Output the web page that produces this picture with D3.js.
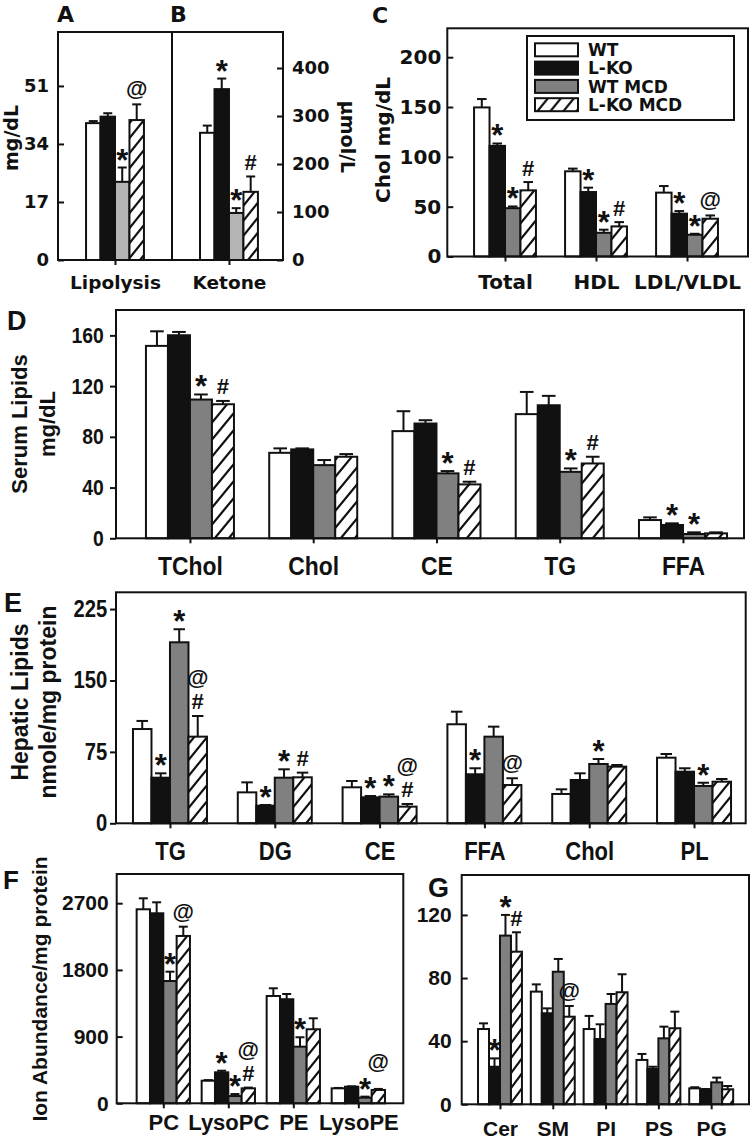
<!DOCTYPE html>
<html><head><meta charset="utf-8">
<script src="https://cdn.jsdelivr.net/npm/d3@7"></script>
<style>body{margin:0;background:#fff}svg{display:block}</style>
</head><body><svg id="c" width="750" height="1145"></svg>
<script>
// ---------- DATA ----------
const series = ["WT", "L-KO", "WT MCD", "L-KO MCD"];

// Panel A/B (A: mg/dL left axis, B: µmol/L right axis)
const abCategories = ["Lipolysis", "Ketone"];
const abValues = [[40.1, 42.0, 22.9, 41.0], [265, 356, 98, 142]];
const abErrors = [[0.6, 1.0, 4.2, 4.6], [15, 22, 10, 32]];
const aTicks = [0, 17, 34, 51];
const bTicks = [0, 100, 200, 300, 400];
// [group, series, symbol, stack level]
const abMarks = [[0, 2, "*", 0], [0, 3, "@", 0], [1, 1, "*", 0], [1, 2, "*", 0], [1, 3, "#", 0]];

// Panel C
const cCategories = ["Total", "HDL", "LDL/VLDL"];
const cValues = [[149.6, 111, 48.5, 66.4], [85.5, 64.7, 23.8, 30.2], [64.1, 43, 21.8, 37.9]];
const cErrors = [[8.4, 2.4, 1.7, 8.3], [2.7, 4.4, 3.1, 4.3], [6.6, 2.6, 1.0, 3.3]];
const cTicks = [0, 50, 100, 150, 200];
const cMarks = [[0, 1, "*", 0], [0, 2, "*", 0], [0, 3, "#", 0], [1, 1, "*", 0], [1, 2, "*", 0], [1, 3, "#", 0], [2, 1, "*", 0], [2, 2, "*", 0], [2, 3, "@", 0]];

// Panel D
const dCategories = ["TChol", "Chol", "CE", "TG", "FFA"];
const dValues = [[151.7, 160.1, 109.4, 105.7], [67.4, 70.1, 57.7, 64.3], [84.5, 90.5, 51.2, 42.5], [97.9, 104.9, 52.4, 59.0], [14.4, 10.5, 3.4, 3.9]];
const dErrors = [[11.5, 2.6, 4.0, 2.6], [3.5, 0.8, 4.0, 2.1], [15.7, 2.6, 1.8, 2.1], [17.5, 7.4, 2.7, 5.3], [2.1, 1.3, 1.3, 0.8]];
const dTicks = [0, 40, 80, 120, 160];
const dMarks = [[0, 2, "*", 0], [0, 3, "#", 0], [2, 2, "*", 0], [2, 3, "#", 0], [3, 2, "*", 0], [3, 3, "#", 0], [4, 1, "*", 0], [4, 2, "*", 0]];

// Panel E
const eCategories = ["TG", "DG", "CE", "FFA", "Chol", "PL"];
const eValues = [[99, 47.9, 190.1, 91], [32.5, 18.5, 47.9, 48.3], [37.8, 27.3, 28.0, 17.5], [104, 51.5, 91, 40.2], [30.8, 45.5, 62.3, 59.5], [68.9, 54.2, 39.2, 43.7]];
const eErrors = [[8.5, 4.6, 13.7, 21.7], [10.5, 0.7, 8.8, 4.9], [6.6, 1.4, 2.4, 2.8], [13.2, 6.3, 10.5, 7.1], [4.9, 7.0, 5.2, 1.7], [3.9, 3.6, 3.4, 2.8]];
const eTicks = [0, 75, 150, 225];
const eMarks = [[0, 1, "*", 0], [0, 2, "*", 0], [0, 3, "#", 0], [0, 3, "@", 1], [1, 1, "*", 0], [1, 2, "*", 0], [1, 3, "#", 0], [2, 1, "*", 0], [2, 2, "*", 0], [2, 3, "#", 0], [2, 3, "@", 1], [3, 1, "*", 0], [3, 3, "@", 0], [4, 2, "*", 0], [5, 2, "*", 0]];

// Panel F
const fCategories = ["PC", "LysoPC", "PE", "LysoPE"];
const fValues = [[2618, 2564, 1650, 2258], [305, 418, 98, 202], [1448, 1404, 764, 999], [202, 224, 76, 180]];
const fErrors = [[148, 148, 126, 125], [8, 22, 27, 10], [104, 71, 127, 148], [5, 5, 14, 14]];
const fTicks = [0, 900, 1800, 2700];
const fMarks = [[0, 2, "*", 0], [0, 3, "@", 0], [1, 1, "*", 0], [1, 2, "*", 0], [1, 3, "#", 0], [1, 3, "@", 1], [2, 2, "*", 0], [3, 2, "*", 0], [3, 3, "@", 0.5]];

// Panel G
const gCategories = ["Cer", "SM", "PI", "PS", "PG"];
const gValues = [[47.7, 23.8, 106.9, 96.7], [71.4, 57.7, 84.0, 55.5], [47.7, 41.4, 63.6, 71.0], [28.1, 22.4, 41.8, 48.2], [10.1, 9.1, 13.9, 9.5]];
const gErrors = [[3.6, 5.3, 13.1, 12.3], [4.6, 3.1, 8.1, 6.8], [8.3, 9.3, 6.3, 11.4], [3.8, 1.4, 7.4, 10.5], [0.7, 0.6, 3.0, 2.1]];
const gTicks = [0, 40, 80, 120];
const gMarks = [[0, 1, "*", 0], [0, 2, "*", 0], [0, 3, "#", 0], [1, 3, "@", 0]];

// ---------- DRAWING ----------
const ARIAL = "'Liberation Sans', Arial, Helvetica, sans-serif";
const DEJAVU = "'DejaVu Sans', Verdana, sans-serif";
const INK = "#111";
const svg = d3.select("#c");
const defs = svg.append("defs");

function hatch(id, w, h) {
  const p = defs.append("pattern").attr("id", id).attr("patternUnits", "userSpaceOnUse")
    .attr("width", w).attr("height", h);
  p.append("rect").attr("width", w).attr("height", h).attr("fill", "#fff");
  p.append("path")
    .attr("d", `M${-0.5 * w},${0.5 * h}L${0.5 * w},${-0.5 * h}M${-0.1 * w},${1.1 * h}L${1.1 * w},${-0.1 * h}M${0.5 * w},${1.5 * h}L${1.5 * w},${0.5 * h}`)
    .attr("stroke", INK).attr("stroke-width", 2.2).attr("fill", "none");
}

function label(x, y, s, o = {}) {
  let tr = `translate(${x},${y})`;
  if (o.rot) tr += ` rotate(${o.rot})`;
  if (o.sx) tr += ` scale(${o.sx},1)`;
  const t = svg.append("text").attr("transform", tr)
    .attr("font-family", o.ff || ARIAL).attr("font-weight", "bold")
    .attr("font-size", o.fs || 20).attr("text-anchor", o.anchor || "middle")
    .attr("fill", INK).text(s);
  if (o.dy) t.attr("dy", o.dy);
  return t;
}

function styleAxis(sel, o) {
  sel.select(".domain").remove();
  sel.attr("font-family", o.ff).attr("font-size", o.fs);
  sel.selectAll(".tick line").attr("stroke", INK).attr("stroke-width", 2);
  sel.selectAll(".tick text").attr("font-family", o.ff).attr("font-weight", "bold")
    .attr("font-size", o.fs).attr("fill", INK);
  if (o.sx) sel.selectAll(".tick text").attr("transform", `scale(${o.sx},1)`);
}

const markSize = { "*": 31, "#": 22, "@": 22 };
const markShift = { "*": 17, "#": 7.5, "@": 6 };

function drawPanel(p) {
  const g = svg.append("g");
  const x = d3.scaleLinear().domain(p.xDomain).range([p.L, p.R]);
  const spacing = x(1) - x(0);
  const bw = p.barFrac * spacing;
  const inner = d3.scaleBand().domain(d3.range(4)).range([-2 * bw, 2 * bw]);
  const yOf = gi => p.ys[p.ys.length === 1 ? 0 : gi];
  const hatchId = "h" + p.id;
  hatch(hatchId, p.hw, p.hh);
  const fills = ["#fff", INK, p.gray, `url(#${hatchId})`];

  const bars = [];
  p.values.forEach((row, gi) => row.forEach((v, si) => bars.push({ gi, si, v, e: p.errors[gi][si] })));

  g.selectAll("rect.bar").data(bars).join("rect").attr("class", "bar")
    .attr("x", d => x(d.gi) + inner(d.si))
    .attr("width", inner.bandwidth())
    .attr("y", d => yOf(d.gi)(d.v))
    .attr("height", d => yOf(d.gi)(0) - yOf(d.gi)(d.v))
    .attr("fill", d => fills[d.si]).attr("stroke", INK).attr("stroke-width", 2);

  const capW = Math.max(9, 0.62 * bw);
  const eg = g.selectAll("g.err").data(bars.filter(d => d.e > 0)).join("g").attr("class", "err")
    .attr("stroke", INK).attr("stroke-width", 2);
  eg.append("line")
    .attr("x1", d => x(d.gi) + inner(d.si) + bw / 2).attr("x2", d => x(d.gi) + inner(d.si) + bw / 2)
    .attr("y1", d => yOf(d.gi)(d.v)).attr("y2", d => yOf(d.gi)(d.v + d.e));
  eg.append("line")
    .attr("x1", d => x(d.gi) + inner(d.si) + bw / 2 - capW / 2).attr("x2", d => x(d.gi) + inner(d.si) + bw / 2 + capW / 2)
    .attr("y1", d => yOf(d.gi)(d.v + d.e)).attr("y2", d => yOf(d.gi)(d.v + d.e));

  g.append("rect").attr("x", p.L).attr("y", p.T).attr("width", p.R - p.L).attr("height", p.B - p.T)
    .attr("fill", "none").attr("stroke", INK).attr("stroke-width", 2);

  const yAx = d3.axisLeft(p.ys[0]).tickValues(p.yTicks).tickFormat(d3.format("d")).tickSizeOuter(0)
    .tickSizeInner(p.yOut ? 6 : -6).tickPadding(p.yPad);
  g.append("g").attr("transform", `translate(${p.L},0)`).call(yAx).call(s => styleAxis(s, p.tickFont));

  const xAx = d3.axisBottom(x).tickValues(d3.range(p.categories.length))
    .tickFormat(i => p.categories[i]).tickSizeOuter(0).tickSizeInner(5);
  const xg = g.append("g").attr("transform", `translate(0,${p.B})`).call(xAx).call(s => styleAxis(s, p.catFont));
  xg.selectAll(".tick text").attr("y", p.catOff).attr("dy", null);

  const markData = p.marks.map(([gi, si, sym, lvl]) => ({ gi, si, sym, lvl, v: p.values[gi][si], e: p.errors[gi][si] }));
  g.selectAll("text.mark").data(markData).join("text").attr("class", "mark")
    .attr("x", d => x(d.gi) + inner(d.si) + bw / 2)
    .attr("y", d => yOf(d.gi)(d.v + d.e) - (p.markGap || 14) - d.lvl * 23 + markShift[d.sym])
    .attr("text-anchor", "middle").attr("font-family", ARIAL).attr("font-weight", "bold")
    .attr("font-size", d => markSize[d.sym])
    .attr("fill", INK).text(d => d.sym);

  return { g, x, inner, bw };
}

// ---- Panel A/B ----
const yA = d3.scaleLinear().domain([0, 66.8]).range([260, 32]);
const yB = d3.scaleLinear().domain([0, 475]).range([260, 32]);
const pAB = drawPanel({
  id: "ab", L: 58, R: 283, T: 32, B: 260, xDomain: [-0.5, 1.474], barFrac: 0.127,
  ys: [yA, yB], yTicks: aTicks, yOut: false, yPad: 9,
  categories: abCategories, values: abValues, errors: abErrors, marks: abMarks,
  gray: "#b4b4b4", hw: 12, hh: 15, catOff: 29,
  tickFont: { ff: DEJAVU, fs: 18 }, catFont: { ff: DEJAVU, fs: 18.5 }
});
pAB.g.append("line").attr("x1", pAB.x(0.5)).attr("x2", pAB.x(0.5)).attr("y1", 32).attr("y2", 260)
  .attr("stroke", INK).attr("stroke-width", 2);
pAB.g.append("g").attr("transform", "translate(283,0)")
  .call(d3.axisRight(yB).tickValues(bTicks).tickSizeOuter(0).tickSizeInner(-6).tickPadding(9))
  .call(s => styleAxis(s, { ff: DEJAVU, fs: 18 }));
label(57, 22, "A", { fs: 22, anchor: "start", ff: DEJAVU });
label(170, 22, "B", { fs: 22, anchor: "start", ff: DEJAVU });
label(11, 138, "mg/dL", { rot: -90, fs: 19, dy: "0.35em", ff: DEJAVU });
label(348, 137, "µmol/L", { rot: 90, fs: 19, dy: "0.35em", ff: DEJAVU });

// ---- Panel C ----
const yC = d3.scaleLinear().domain([0, 229]).range([256.5, 28.3]);
const pC = drawPanel({
  id: "c", L: 447.3, R: 748, T: 28.3, B: 256.5, xDomain: [-0.634, 2.67], barFrac: 0.17,
  ys: [yC], yTicks: cTicks, yOut: false, yPad: 6,
  categories: cCategories, values: cValues, errors: cErrors, marks: cMarks,
  gray: "#808080", hw: 13, hh: 16, catOff: 32.5,
  tickFont: { ff: DEJAVU, fs: 20 }, catFont: { ff: DEJAVU, fs: 20 }
});
label(372, 23, "C", { fs: 22, anchor: "start", ff: DEJAVU });
label(383, 140, "Chol mg/dL", { rot: -90, fs: 20, ff: DEJAVU, dy: "0.35em" });
const lg = svg.append("g");
lg.append("rect").attr("x", 527).attr("y", 36).attr("width", 207).attr("height", 84)
  .attr("fill", "#fff").attr("stroke", INK).attr("stroke-width", 2);
const legFills = ["#fff", INK, "#808080", "url(#hc)"];
const legRows = lg.selectAll("g.row").data(series).join("g").attr("class", "row")
  .attr("transform", (d, i) => `translate(535,${43.3 + i * 18.3})`);
legRows.append("rect").attr("width", 43).attr("height", 13)
  .attr("fill", (d, i) => legFills[i]).attr("stroke", INK).attr("stroke-width", 2);
legRows.append("text").attr("x", 53).attr("y", 6.5).attr("dy", "0.36em")
  .attr("font-family", DEJAVU).attr("font-weight", "bold").attr("font-size", 17).attr("fill", INK)
  .text(d => d);

// ---- Panel D ----
const yD = d3.scaleLinear().domain([0, 180]).range([538.3, 310]);
drawPanel({
  id: "d", L: 116, R: 744, T: 310, B: 538.3, xDomain: [-0.6, 4.495], barFrac: 0.1785,
  ys: [yD], yTicks: dTicks, yOut: true, yPad: 8,
  categories: dCategories, values: dValues, errors: dErrors, marks: dMarks,
  gray: "#808080", hw: 14, hh: 17, catOff: 37,
  tickFont: { ff: ARIAL, fs: 22, sx: 0.88 }, catFont: { ff: ARIAL, fs: 26, sx: 0.88 }
});
label(7, 330, "D", { fs: 27, anchor: "start" });
label(19, 424, "Serum Lipids", { rot: -90, fs: 22, dy: "0.35em" });
label(47, 424, "mg/dL", { rot: -90, fs: 22, dy: "0.35em" });

// ---- Panel E ----
const yE = d3.scaleLinear().domain([0, 242.6]).range([823.3, 592.3]);
drawPanel({
  id: "e", L: 116, R: 745.7, T: 592.3, B: 823.3, xDomain: [-0.515, 5.493], barFrac: 0.1765,
  ys: [yE], yTicks: eTicks, yOut: true, yPad: 4,
  categories: eCategories, values: eValues, errors: eErrors, marks: eMarks,
  gray: "#808080", hw: 13, hh: 16, catOff: 37,
  tickFont: { ff: ARIAL, fs: 23, sx: 0.88 }, catFont: { ff: ARIAL, fs: 25, sx: 0.88 }
});
label(4, 612, "E", { fs: 27, anchor: "start" });
label(20, 702, "Hepatic Lipids", { rot: -90, fs: 23, dy: "0.35em" });
label(48, 702, "nmole/mg protein", { rot: -90, fs: 23, dy: "0.35em" });

// ---- Panel F ----
const yF = d3.scaleLinear().domain([0, 3094]).range([1103.3, 874]);
drawPanel({
  id: "f", L: 116.7, R: 403.3, T: 874, B: 1103.3, xDomain: [-0.717, 3.692], barFrac: 0.205,
  ys: [yF], yTicks: fTicks, yOut: false, yPad: 8,
  categories: fCategories, values: fValues, errors: fErrors, marks: fMarks,
  gray: "#808080", hw: 12, hh: 15, catOff: 27,
  tickFont: { ff: ARIAL, fs: 21 }, catFont: { ff: ARIAL, fs: 22 }
});
label(3, 889, "F", { fs: 26, anchor: "start" });
label(40, 989, "Ion Abundance/mg protein", { rot: -90, fs: 21, dy: "0.35em" });

// ---- Panel G ----
const yG = d3.scaleLinear().domain([0, 145.3]).range([1104.3, 875]);
drawPanel({
  id: "g", L: 461.7, R: 749, T: 875, B: 1104.3, xDomain: [-0.725, 4.716], barFrac: 0.208,
  ys: [yG], yTicks: gTicks, yOut: false, yPad: 10,
  categories: gCategories, values: gValues, errors: gErrors, marks: gMarks,
  gray: "#808080", hw: 11, hh: 15, catOff: 32,
  tickFont: { ff: ARIAL, fs: 21 }, catFont: { ff: ARIAL, fs: 21 }
});
label(428, 897, "G", { fs: 27, anchor: "start" });
</script>
</body></html>
